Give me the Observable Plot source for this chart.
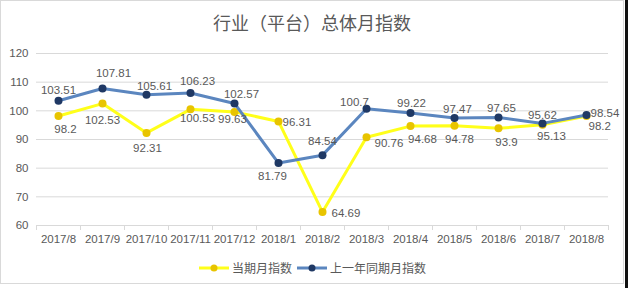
<!DOCTYPE html>
<html>
<head>
<meta charset="utf-8">
<script src="https://cdn.jsdelivr.net/npm/d3@7"></script>
<script src="https://cdn.jsdelivr.net/npm/@observablehq/plot@0.6"></script>
<style>
  html, body { margin: 0; padding: 0; background: #fff; }
  body { width: 628px; height: 288px; position: relative; overflow: hidden;
         font-family: "Liberation Sans", "Noto Sans CJK SC", sans-serif; }
  #frame { position: absolute; left: 0; top: 0; width: 624px; height: 284px;
           box-sizing: border-box; border: 1px solid #d9d9d9; background: #fff; }
  #strip { position: absolute; left: 625px; top: 0; width: 3px; height: 288px; background: #111; }
  #title { position: absolute; left: 0; top: 10px; width: 624px; text-align: center;
           font-family: "Noto Sans CJK SC", sans-serif; font-size: 18px; color: #595959; line-height: 24px; }
  #chart { position: absolute; left: 0; top: 40px; }
  #legend { position: absolute; left: 0; top: 259px; width: 624px; display: flex; justify-content: center;
            align-items: center; font-family: "Noto Sans CJK SC", sans-serif; font-size: 12px; color: #595959; }
  #legend .item { display: flex; align-items: center; margin: 0 2px; }
  #legend svg { margin-right: 2px; }
</style>
</head>
<body>
<div id="frame"></div>
<div id="strip"></div>
<div id="title">行业（平台）总体月指数</div>
<div id="chart"></div>
<div id="legend"></div>
<script>
const categories = ["2017/8","2017/9","2017/10","2017/11","2017/12","2018/1","2018/2","2018/3","2018/4","2018/5","2018/6","2018/7","2018/8"];
const currentIndex = [98.2, 102.53, 92.31, 100.53, 99.63, 96.31, 64.69, 90.76, 94.68, 94.78, 93.9, 95.13, 98.2];
const lastYearIndex = [103.51, 107.81, 105.61, 106.23, 102.57, 81.79, 84.54, 100.7, 99.22, 97.47, 97.65, 95.62, 98.54];
const yTicks = [60, 70, 80, 90, 100, 110, 120];
const seriesNames = ["当期月指数", "上一年同期月指数"];

// styling / label placement (kept separate from data)
const COLORS = {
  curLine: "#ffff1a", curDot: "#e8c400",
  prevLine: "#5b86bf", prevDot: "#1f3864",
  text: "#595959", grid: "#d9d9d9"
};
const curLabelPos = [[7,13,"middle"],[0,17,"middle"],[1,15,"middle"],[7,9,"middle"],[-2,7,"middle"],
  [4,1,"start"],[9,1,"start"],[8,6,"start"],[12,13,"middle"],[5,14,"middle"],[8,14,"middle"],[9,12,"middle"],[2,10,"start"]];
const prevLabelPos = [[0,-10,"middle"],[11,-15,"middle"],[8,-8,"middle"],[7,-12,"middle"],[7,-9,"middle"],
  [-6,13,"middle"],[0,-14,"middle"],[-12,-7,"middle"],[1,-10,"middle"],[3,-9,"middle"],[3,-9,"middle"],[0,-8,"middle"],[4,-2,"start"]];

const cur = categories.map((c, i) => ({i, cat: c, v: currentIndex[i]}));
const prev = categories.map((c, i) => ({i, cat: c, v: lastYearIndex[i]}));
const catIdx = categories.map((c, i) => i);
const boundaries = categories.map((c, i) => i - 0.5).concat([categories.length - 0.5]);

function labels(data, pos) {
  return data.map((d, k) => Plot.text([d], {
    x: "i", y: "v", text: d => String(d.v),
    dx: pos[k][0], dy: pos[k][1], textAnchor: pos[k][2],
    fill: COLORS.text, fontSize: 11.5
  }));
}

const chart = Plot.plot({
  width: 628,
  height: 215,
  marginTop: 13,
  marginBottom: 30,
  marginLeft: 36,
  marginRight: 20,
  style: {fontFamily: "'Liberation Sans', 'Noto Sans CJK SC', sans-serif", fontSize: "11.5px", color: COLORS.text, background: "transparent"},
  x: {type: "linear", domain: [-0.5, categories.length - 0.5]},
  y: {domain: [60, 120]},
  marks: [
    Plot.gridY(yTicks, {stroke: COLORS.grid, strokeOpacity: 1, strokeWidth: 1}),
    Plot.axisY(yTicks, {tickSize: 0, tickPadding: 8, label: null, fill: COLORS.text, fontSize: 11.5}),
    Plot.axisX(boundaries, {tickSize: 5, stroke: COLORS.grid, strokeOpacity: 1, tickFormat: () => "", label: null}),
    Plot.axisX(catIdx, {tickSize: 0, tickPadding: 9, tickFormat: i => categories[i], label: null, fill: COLORS.text, fontSize: 11.5}),
    Plot.line(cur, {x: "i", y: "v", stroke: COLORS.curLine, strokeWidth: 3}),
    Plot.dot(cur, {x: "i", y: "v", r: 4, fill: COLORS.curDot, stroke: "none"}),
    Plot.line(prev, {x: "i", y: "v", stroke: COLORS.prevLine, strokeWidth: 3}),
    Plot.dot(prev, {x: "i", y: "v", r: 4, fill: COLORS.prevDot, stroke: "none"}),
    ...labels(cur, curLabelPos),
    ...labels(prev, prevLabelPos)
  ]
});
document.getElementById("chart").appendChild(chart);

// legend
const legend = document.getElementById("legend");
[[seriesNames[0], COLORS.curLine, COLORS.curDot], [seriesNames[1], COLORS.prevLine, COLORS.prevDot]].forEach(([name, line, dot]) => {
  const item = document.createElement("div");
  item.className = "item";
  item.innerHTML = `<svg width="32" height="12"><line x1="1" y1="6" x2="31" y2="6" stroke="${line}" stroke-width="3"/><circle cx="16" cy="6" r="3.5" fill="${dot}"/></svg><span>${name}</span>`;
  legend.appendChild(item);
});
</script>
</body>
</html>
